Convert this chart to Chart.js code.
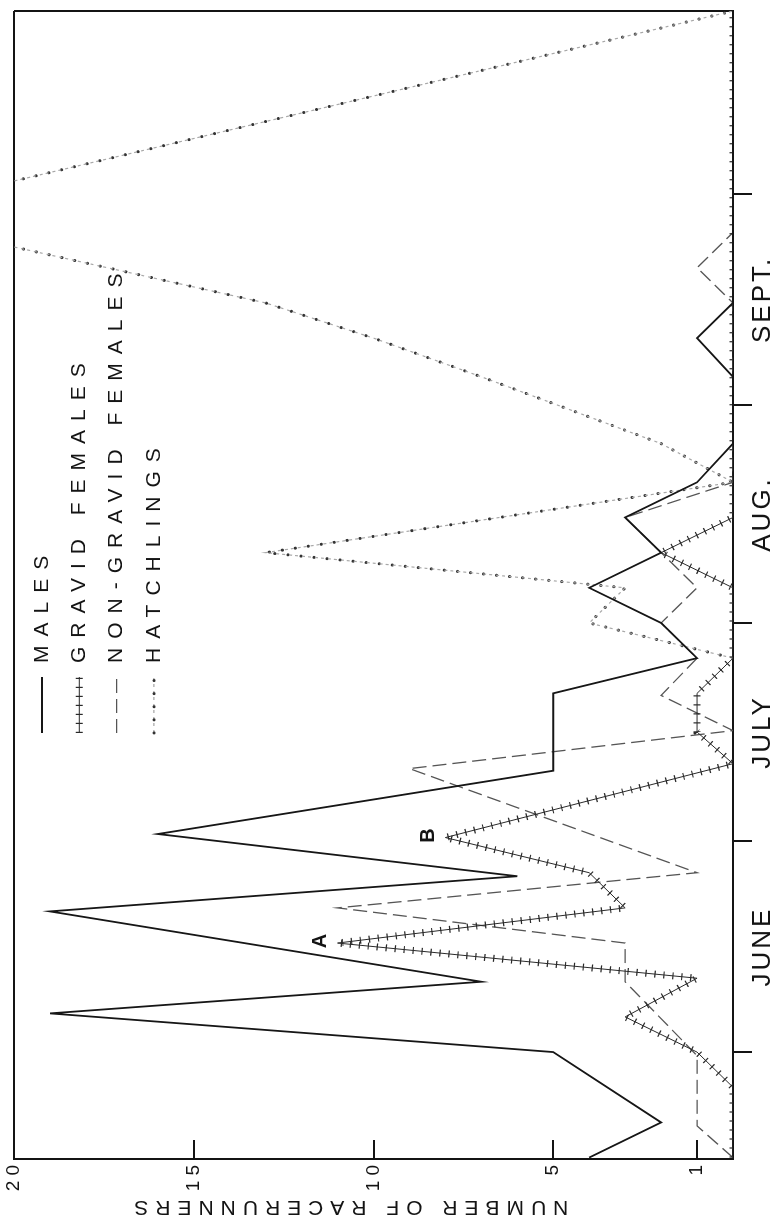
<!DOCTYPE html>
<html>
<head>
<meta charset="utf-8">
<title>Racerunners by sex and age class</title>
<script src="https://cdn.jsdelivr.net/npm/chart.js@4.4.1/dist/chart.umd.min.js"></script>
<style>
  html, body { margin: 0; padding: 0; background: #fff; overflow: hidden; }
  /* the figure is printed turned a quarter turn, so the chart is drawn flat and rotated */
  #frame {
    position: absolute; left: 0; top: 0;
    width: 1222px; height: 778px;
    transform-origin: 0 0;
    transform: translateY(1222px) rotate(-90deg);
  }
</style>
</head>
<body>
<div id="frame"><canvas id="chart" width="1222" height="778"></canvas></div>
<script>
// days are counted from 1 June
const maleDays = [-15, -10, 0, 5.5, 10, 20, 25, 31, 40, 51, 56, 61, 66, 71, 76, 81, 86.5, 96, 101.5, 106.5, 148];
const maleCounts = [4, 2, 5, 19, 7, 19, 6, 16, 5, 5, 1, 2, 4, 2, 3, 1, 0, 0, 1, 0, 0];

const gravidDays = [-15, -5, 0, 5, 10.5, 15.5, 20.5, 25.5, 30.5, 41, 45.5, 51, 56, 66, 71, 76, 148];
const gravidCounts = [0, 0, 1, 3, 1, 11, 3, 4, 8, 0, 1, 1, 0, 0, 2, 0, 0];

const nonGravidDays = [-15, -10.5, -0.5, 10, 15.5, 20.5, 25.5, 40.3, 45.7, 50.7, 56, 61, 66, 71, 76, 81, 106.5, 111.5, 116.5, 148];
const nonGravidCounts = [0, 1, 1, 3, 3, 11, 1, 9, 0, 2, 1, 2, 1, 2, 3, 0, 0, 1, 0, 0];

const hatchlingDays = [56, 61, 66, 71, 81, 86.5, 96, 101.5, 106.5, 119, 148];
const hatchlingCounts = [0, 4, 3, 13, 0, 2, 7, 10, 13, 24, 0];

const seriesNames = ['MALES', 'GRAVID FEMALES', 'NON-GRAVID FEMALES', 'HATCHLINGS'];

const monthEdgeDays = [0, 30, 61, 92, 122];
const monthLabelDays = [15, 45.5, 76.5, 107];
const monthNames = ['JUNE', 'JULY', 'AUG.', 'SEPT.'];
const dayMin = -15.2;
const dayMax = 148;

const countTicks = [0, 1, 5, 10, 15, 20];
const countMax = 20;

const peakLabels = ['A', 'B'];
const peakDays = [15.5, 30.5];
const peakCounts = [11, 8];

const FONT = '"Liberation Sans", Arial, sans-serif';
const INK = '#141414';
const NONE = 'rgba(0,0,0,0)';

const pts = (days, counts) => days.map((d, i) => ({ x: d, y: counts[i] }));

const lineBase = { fill: false, pointRadius: 0, pointHoverRadius: 0, tension: 0 };

// letter spaced lettering, as on the original drawing
const spacingPlugin = {
  id: 'spacing',
  beforeDraw(chart) {
    const ctx = chart.ctx;
    const wrap = (scale, name, px) => {
      const orig = scale[name];
      scale[name] = function (...args) {
        ctx.letterSpacing = px + 'px';
        orig.apply(this, args);
        ctx.letterSpacing = '0px';
      };
    };
    const { x, y } = chart.scales;
    if (!x.$spaced) { wrap(x, 'drawLabels', 3); x.$spaced = true; }
    if (!y.$spaced) { wrap(y, 'drawLabels', 5); wrap(y, 'drawTitle', 7); y.$spaced = true; }
  }
};

// key inside the plot: a short sample of each line followed by its name
const keyPlugin = {
  id: 'key',
  afterDatasetsDraw(chart) {
    const { ctx, chartArea } = chart;
    const x0 = chartArea.left + 426;
    const rowY = i => chartArea.top + 28 + 37.3 * i;
    ctx.save();
    chart.data.datasets.forEach(ds => {
      const y = rowY(ds.keyRow);
      ctx.beginPath();
      ctx.strokeStyle = ds.borderColor;
      ctx.lineWidth = ds.borderWidth;
      ctx.setLineDash(ds.borderDash || []);
      ctx.lineCap = ds.borderCapStyle || 'butt';
      ctx.moveTo(x0, y);
      ctx.lineTo(x0 + 56, y);
      ctx.stroke();
    });
    ctx.setLineDash([]);
    ctx.fillStyle = INK;
    ctx.font = '21px ' + FONT;
    ctx.textBaseline = 'middle';
    ctx.letterSpacing = '9px';
    seriesNames.forEach((name, i) => ctx.fillText(name, x0 + 70, rowY(i)));
    ctx.restore();
  }
};

// the A and B marks beside the two gravid peaks
const peakPlugin = {
  id: 'peaks',
  afterDatasetsDraw(chart) {
    const { ctx } = chart;
    const { x, y } = chart.scales;
    ctx.save();
    ctx.fillStyle = INK;
    ctx.font = 'bold 20px ' + FONT;
    ctx.textAlign = 'center';
    ctx.textBaseline = 'middle';
    peakLabels.forEach((t, i) => {
      ctx.fillText(t, x.getPixelForValue(peakDays[i]) + 2, y.getPixelForValue(peakCounts[i]) - 17);
    });
    ctx.restore();
  }
};

new Chart(document.getElementById('chart'), {
  type: 'line',
  data: {
    datasets: [
      { ...lineBase, label: seriesNames[0], data: pts(maleDays, maleCounts),
        borderColor: '#161616', borderWidth: 1.8, keyRow: 0 },
      { ...lineBase, label: seriesNames[1], data: pts(gravidDays, gravidCounts),
        borderColor: '#2a2a2a', borderWidth: 1, keyRow: 1 },
      { ...lineBase, label: seriesNames[1] + ' (ticks)', data: pts(gravidDays, gravidCounts),
        borderColor: '#2a2a2a', borderWidth: 7, borderDash: [1.2, 7.8], borderCapStyle: 'butt', keyRow: 1 },
      { ...lineBase, label: seriesNames[2], data: pts(nonGravidDays, nonGravidCounts),
        borderColor: '#555', borderWidth: 1.3, borderDash: [14, 6], keyRow: 2 },
      { ...lineBase, label: seriesNames[3] + ' (wave)', data: pts(hatchlingDays, hatchlingCounts),
        borderColor: '#a8a8a8', borderWidth: 1.2, borderDash: [3, 4, 3, 3], keyRow: 3 },
      { ...lineBase, label: seriesNames[3], data: pts(hatchlingDays, hatchlingCounts),
        borderColor: '#333', borderWidth: 3, borderDash: [0.1, 13], borderCapStyle: 'round', keyRow: 3 }
    ]
  },
  options: {
    responsive: false,
    maintainAspectRatio: false,
    animation: false,
    devicePixelRatio: 1,
    layout: { padding: { top: 14, right: 11, left: 0, bottom: 0 } },
    plugins: {
      legend: { display: false },
      tooltip: { enabled: false }
    },
    scales: {
      x: {
        type: 'linear',
        min: dayMin,
        max: dayMax,
        afterBuildTicks: scale => {
          scale.ticks = [...monthEdgeDays, ...monthLabelDays, dayMax].sort((a, b) => a - b).map(v => ({ value: v }));
        },
        afterFit: scale => {
          scale.height = 45;
          scale.paddingLeft = 0;
          scale.paddingRight = 0;
        },
        grid: {
          drawOnChartArea: true,
          color: c => (c.tick && c.tick.value === dayMax ? INK : NONE),
          lineWidth: 2,
          tickLength: 19,
          tickWidth: 2,
          tickColor: c => (c.tick && monthEdgeDays.includes(c.tick.value) ? INK : NONE)
        },
        border: { display: true, color: INK, width: 2 },
        ticks: {
          autoSkip: false,
          maxRotation: 0,
          minRotation: 0,
          padding: -5,
          color: INK,
          font: { family: FONT, size: 26 },
          callback: v => {
            const i = monthLabelDays.indexOf(v);
            return i >= 0 ? monthNames[i] : '';
          }
        }
      },
      y: {
        type: 'linear',
        min: 0,
        max: countMax,
        afterBuildTicks: scale => { scale.ticks = countTicks.map(v => ({ value: v })); },
        afterFit: scale => {
          scale.width = 63;
          scale.paddingTop = 0;
          scale.paddingBottom = 0;
        },
        grid: {
          drawOnChartArea: true,
          color: c => (c.tick && c.tick.value === countMax ? INK : NONE),
          lineWidth: 2,
          tickLength: -19,
          tickWidth: 2,
          tickColor: INK
        },
        border: { display: true, color: INK, width: 2 },
        ticks: {
          padding: 20,
          color: INK,
          font: { family: FONT, size: 19 },
          callback: v => (v === 0 ? '' : String(v))
        },
        title: {
          display: true,
          text: '    NUMBER OF RACERUNNERS',
          color: INK,
          font: { family: FONT, size: 21 },
          padding: { top: 3, bottom: 0 }
        }
      }
    }
  },
  plugins: [spacingPlugin, keyPlugin, peakPlugin]
});
</script>
</body>
</html>
